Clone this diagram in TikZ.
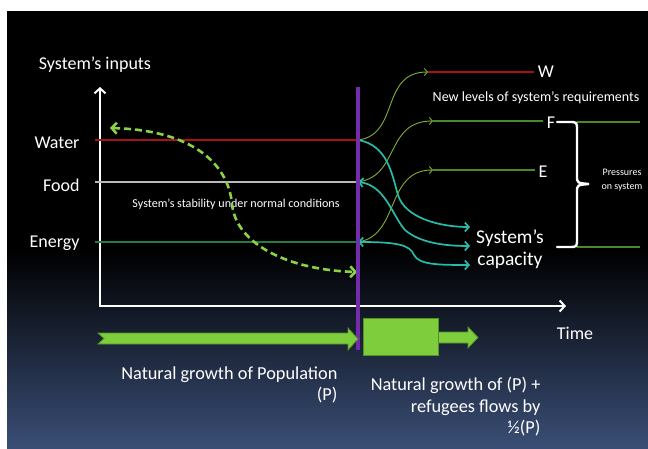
\documentclass[tikz,border=0pt]{standalone}
\usepackage{fontspec}
\setmainfont{Carlito}
\usetikzlibrary{arrows.meta,positioning}
\definecolor{waterred}{RGB}{165,20,20}
\definecolor{foodgrey}{RGB}{185,185,185}
\definecolor{energygreen}{RGB}{35,125,65}
\definecolor{levelgreen}{RGB}{75,135,45}
\definecolor{shiftolive}{RGB}{130,175,50}
\definecolor{capteal}{RGB}{40,188,168}
\definecolor{stablegreen}{RGB}{140,210,70}
\definecolor{popgreen}{RGB}{125,205,60}
\definecolor{popedge}{RGB}{85,145,40}
\definecolor{cutpurple}{RGB}{115,45,170}
\definecolor{bgblue}{RGB}{58,78,118}
\tikzset{
    axes/.style={white, line width=2pt, line join=miter,
        {Straight Barb[length=5pt,width=11pt]}-{Straight Barb[length=5pt,width=11pt]}}, % both axes in one path
    levelline/.style={line width=1.1pt},
    shiftarrow/.style={shiftolive, line width=0.9pt, -{Straight Barb[length=3pt,width=7pt]}},
    capflow/.style={capteal, line width=1.7pt, -{Straight Barb[length=4pt,width=9pt]}},
    capflow2/.style={capflow, {Straight Barb[length=4pt,width=9pt]}-{Straight Barb[length=4pt,width=9pt]}},
    inlabel/.style={text=white, font=\fontsize{18}{21}\selectfont},
    biglabel/.style={text=white, font=\fontsize{18.3}{21.5}\selectfont},
    smalllabel/.style={text=white, font=\fontsize{12.1}{14}\selectfont},
    popbox/.style={fill=popgreen, draw=popedge, line width=0.8pt},
}
\begin{document}
\begin{tikzpicture}[x=1pt,y=-1pt]
    \useasboundingbox (0,0) rectangle (648,449);
    \fill[white] (0,0) rectangle (648,449);
    \fill[black] (7,11) rectangle (648,449);
    \shade[top color=black, bottom color=bgblue] (7,250) rectangle (648,449);

    % axes
    \coordinate (O) at (100,306);
    \coordinate (yT) at (100,87);
    \coordinate (xR) at (566,306);
    \draw[axes] (yT) -- (O) -- (xR);
    \node[inlabel] (inputs) at (95,65) {System's inputs};
    \node[inlabel] (time) at (575,333) {Time};

    % inputs under normal conditions
    \coordinate (wP) at (358,140);
    \coordinate (fP) at (358,182);
    \coordinate (eP) at (358,242);
    \coordinate (wL) at (95,140);
    \coordinate (fL) at (95,182);
    \coordinate (eL) at (95,242);
    \draw[levelline, waterred] (wL) -- (wP);
    \draw[levelline, foodgrey] (fL) -- (fP);
    \draw[levelline, energygreen] (eL) -- (eP);
    \node[inlabel, anchor=east] (water) at (83,143) {Water};
    \node[inlabel, anchor=east] (food) at (83,185) {Food};
    \node[inlabel, anchor=east] (energy) at (83,243) {Energy};

    \node[smalllabel] (stable) at (236,204) {System's stability under normal conditions};
    \coordinate (sA) at (110,128);
    \coordinate (sB) at (357,272);
    \draw[stablegreen, line width=2.6pt, dash pattern=on 7pt off 4pt,
        {Straight Barb[length=5pt,width=11pt]}-{Straight Barb[length=5pt,width=11pt]}]
        (sA) .. controls (190,130) and (228,162) .. (232,204)
        .. controls (236,245) and (290,270) .. (sB);

    % new levels
    \node[inlabel] (Wlbl) at (546,72) {W};
    \node[inlabel] (Flbl) at (551,123) {F};
    \node[inlabel] (Elbl) at (543,172) {E};
    \coordinate (Wst) at (428,72);
    \coordinate (Fst) at (433,121);
    \coordinate (Est) at (433,170);
    \draw[levelline, waterred] (Wst) -- (Wst -| Wlbl.west);
    \draw[levelline, levelgreen] (Fst) -- (Fst -| Flbl.west);
    \draw[levelline, levelgreen] (Est) -- (Est -| Elbl.west);
    \node[text=white, font=\fontsize{14}{16}\selectfont] (newlvl) at (536,98) {New levels of system's requirements};

    \draw[shiftarrow] (wP) .. controls (400,135) and (380,72) .. (Wst);
    \draw[shiftarrow] (fP) .. controls (400,176) and (385,121) .. (Fst);
    \draw[shiftarrow] (eP) .. controls (400,236) and (385,170) .. (Est);

    % system's capacity
    \node[text=white, font=\fontsize{19.5}{22}\selectfont, align=center] (cap) at (510,249) {System's\\capacity};
    \coordinate (c1) at (470,227);
    \coordinate (c2) at (470,246);
    \coordinate (c3) at (470,265);
    \draw[capflow] (wP) .. controls (388,145) and (392,175) .. (398,195)
        .. controls (405,218) and (440,227) .. (c1);
    \draw[capflow2] (fP) .. controls (385,185) and (392,215) .. (405,230)
        .. controls (420,243) and (445,246) .. (c2);
    \draw[capflow2] (eP) .. controls (398,242) and (410,245) .. (414,255)
        .. controls (419,265) and (440,265) .. (c3);

    % pressures
    \coordinate (brT) at (577,122);
    \coordinate (brB) at (577,247);
    \draw[levelline, levelgreen] (brT) -- (640,122);
    \draw[levelline, levelgreen] (brB) -- (640,247);
    \draw[white, line width=2.4pt, line cap=round]
        (557,122) -- (569,122) .. controls (577,122) .. (577,130) -- (577,176)
        .. controls (577,183) .. (589,184) .. controls (577,185) .. (577,192)
        -- (577,239) .. controls (577,247) .. (569,247) -- (557,247);
    \node[text=white, font=\fontsize{10}{14}\selectfont, align=center] (press) at (622,180) {Pressures\\on system};

    % population growth
    \draw[cutpurple, line width=3.4pt] (358,87) -- (358,350);
    \fill[popbox] (98,333) -- (348,333) -- (348,328) -- (358,339) -- (348,350)
        -- (348,344) -- (98,344) -- (104,338.5) -- cycle;
    \node[popbox, minimum width=75pt, minimum height=37pt, inner sep=0pt] (box) at (400.5,336.5) {};
    \fill[popbox] (box.east |- 0,332) -- (468,332) -- (468,327) -- (478,337.5)
        -- (468,348) -- (468,343) -- (box.east |- 0,343) -- cycle;
    \node[biglabel, align=right, anchor=north east] (natural) at (341,363) {Natural growth of Population\\(P)};
    \node[biglabel, align=right, anchor=north east] (refugee) at (544,374) {Natural growth of (P) +\\refugees flows by\\½(P)};
\end{tikzpicture}
\end{document}
